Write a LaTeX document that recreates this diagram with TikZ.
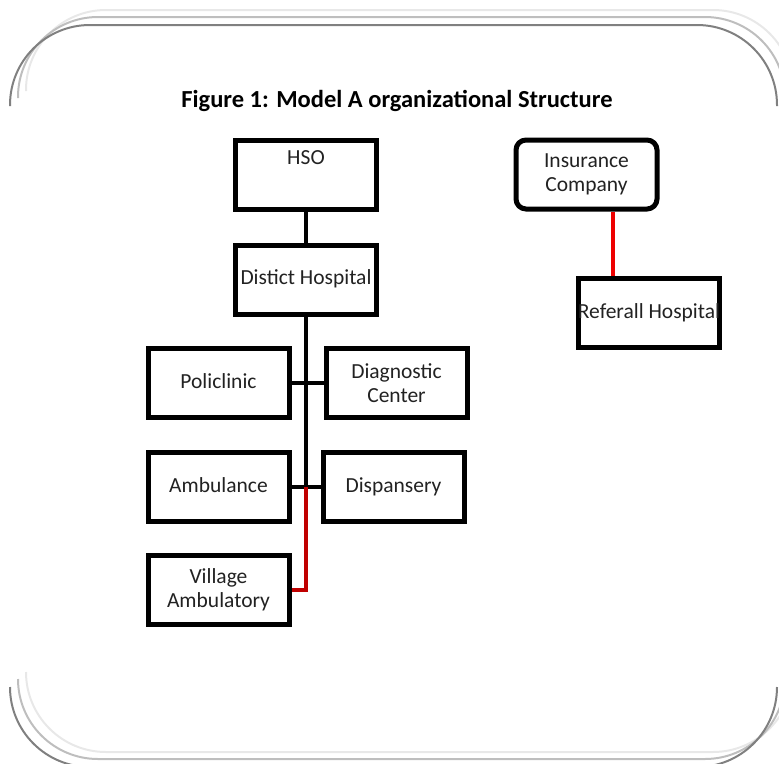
\documentclass[tikz,border=0pt]{standalone}
\usepackage{fontspec}
\setmainfont{Carlito}
\definecolor{frdark}{HTML}{808080}
\definecolor{frmid}{HTML}{BEBEBE}
\definecolor{frlight}{HTML}{E8E8E8}
\definecolor{txt}{HTML}{222222}
\definecolor{vred}{HTML}{C00000}
\definecolor{ired}{HTML}{EE0000}
\begin{document}
\begin{tikzpicture}[x=1pt,y=-1pt,
  boxfont/.style={font=\fontsize{21.5}{24}\selectfont, text=txt},
  box/.style={draw=black, line width=5pt, fill=white, inner sep=0pt,
    minimum width=141pt, minimum height=69pt, align=center, boxfont},
  oneline/.style={text height=1.2em, text depth=0.2em},
  rbox/.style={box, rounded corners=10pt},
  link/.style={draw=black, line width=4pt},
  redlink/.style={draw=vred, line width=4pt},
  frame/.style={line width=2pt, rounded corners=80pt}]
\useasboundingbox (0,0) rectangle (779,763);
\clip (0,0) rectangle (779,763);
% frame with shadow copies
\foreach \dx/\dy/\c in {16/-15/frlight, 8/-8/frmid, 0/0/frdark}{
  \begin{scope}[shift={(\dx,\dy)}]
    \draw[frame, draw=\c] (10,106) -- (10,25) -- (777,25) -- (777,106);
    \draw[frame, draw=\c] (10,687) -- (10,767) -- (777,767) -- (777,687);
  \end{scope}
}
% title
\node[font=\fontsize{24.5}{28}\selectfont\bfseries] (title) at (397,101) {Figure 1: Model A organizational Structure};
% nodes
\node[box] (hso) at (306,175) {};
\node[boxfont, oneline, anchor=center] (hsot) at ([yshift=-21pt]hso.north) {HSO};
\node[box, oneline] (dh) at (306,279.5) {Distict Hospital};
\node[box, oneline] (poli) at (218.5,383) {Policlinic};
\node[box] (diag) at (396.5,383) {Diagnostic\\Center};
\node[box, oneline] (amb) at (218.5,487) {Ambulance};
\node[box, oneline] (disp) at (393.5,487) {Dispansery};
\node[box] (vill) at (218.5,590) {Village\\Ambulatory};
\node[rbox] (ins) at (586.5,174.5) {Insurance\\Company};
\node[box, oneline] (ref) at (649,313) {\makebox[0pt]{Referall Hospital}};
% connectors
\coordinate (j1) at (dh.south |- poli.east);
\coordinate (j2) at (dh.south |- amb.east);
\coordinate (j3) at (dh.south |- vill.east);
\draw[link] (hso) -- (dh);
\draw[link] (dh.south) -- (j2);
\draw[link] (poli.east) -- (diag.west);
\draw[link] (amb.east) -- (disp.west);
\draw[redlink] (j2) -- (j3) -- (vill.east);
\draw[draw=ired, line width=4pt] (ins.south -| 613,0) -- (ref.north -| 613,0);
\end{tikzpicture}
\end{document}
